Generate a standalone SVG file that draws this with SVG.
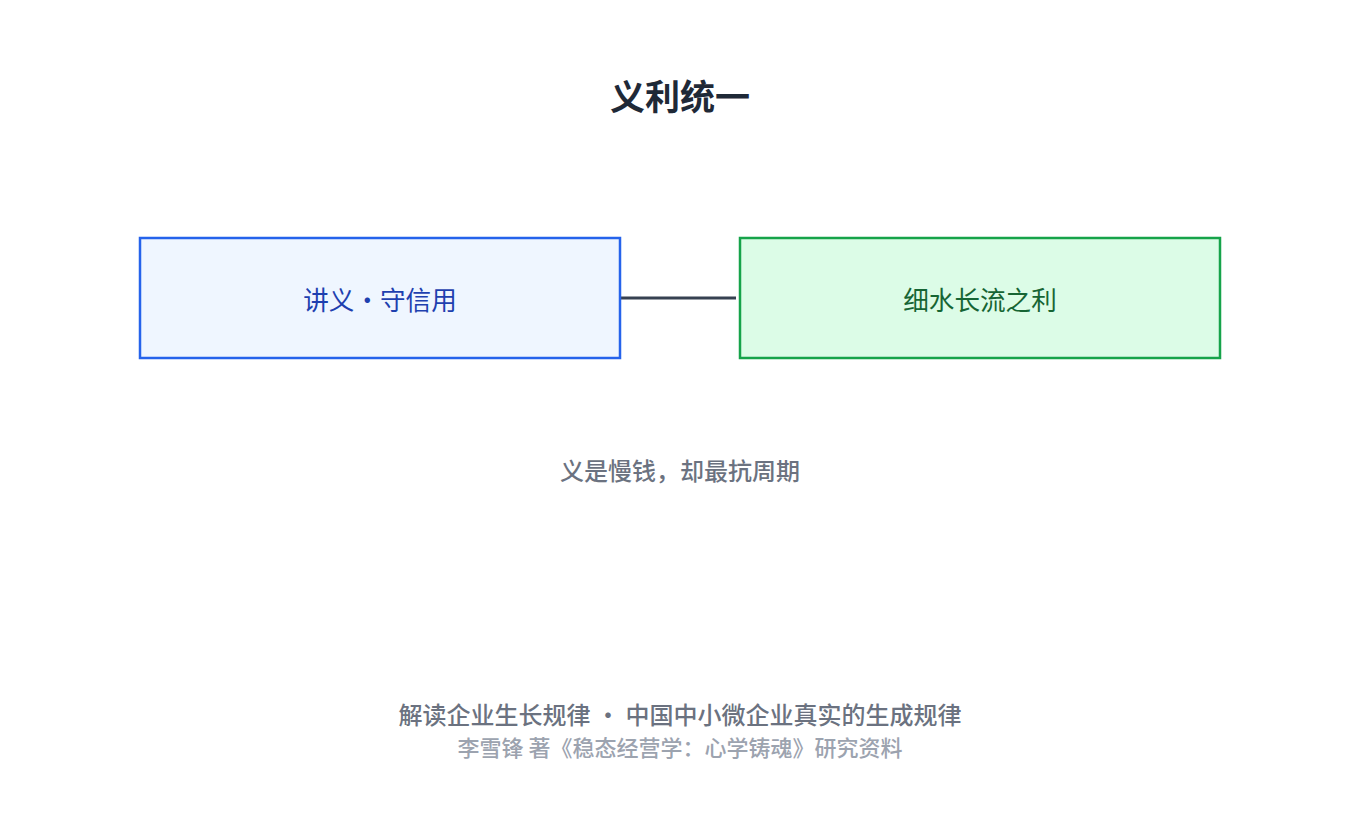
<svg xmlns="http://www.w3.org/2000/svg" width="1360" height="830" viewBox="0 0 1360 830">
<style>
text{font-family:"Noto Sans CJK SC","Noto Sans",sans-serif;text-anchor:middle;dominant-baseline:central}
.t{font-size:35px;font-weight:bold;fill:#1f2937}
.n{font-size:25.6px}
.s{font-size:24px;fill:#6b7280;font-weight:500}
.f2{font-size:22px;fill:#9ca3af;font-weight:500}
</style>
<rect width="1360" height="830" fill="#fff"/>
<text class="t" x="680" y="94">义利统一</text>
<g id="connectors"><line x1="620" y1="298" x2="736" y2="298" stroke="#374151" stroke-width="3"/></g>
<g id="n1"><rect x="140" y="238" width="480" height="120" fill="#eff6ff" stroke="#2563eb" stroke-width="2.5"/><text class="n" x="380" y="298" fill="#1e40af">讲义・守信用</text></g>
<g id="n2"><rect x="740" y="238" width="480" height="120" fill="#dcfce7" stroke="#16a34a" stroke-width="2.5"/><text class="n" x="980" y="298" fill="#166534">细水长流之利</text></g>
<text class="s" x="680" y="469">义是慢钱，却最抗周期</text>
<text class="s" x="680" y="713">解读企业生长规律 · 中国中小微企业真实的生成规律</text>
<text class="f2" x="680" y="746">李雪锋 著《稳态经营学：心学铸魂》研究资料</text>
</svg>
